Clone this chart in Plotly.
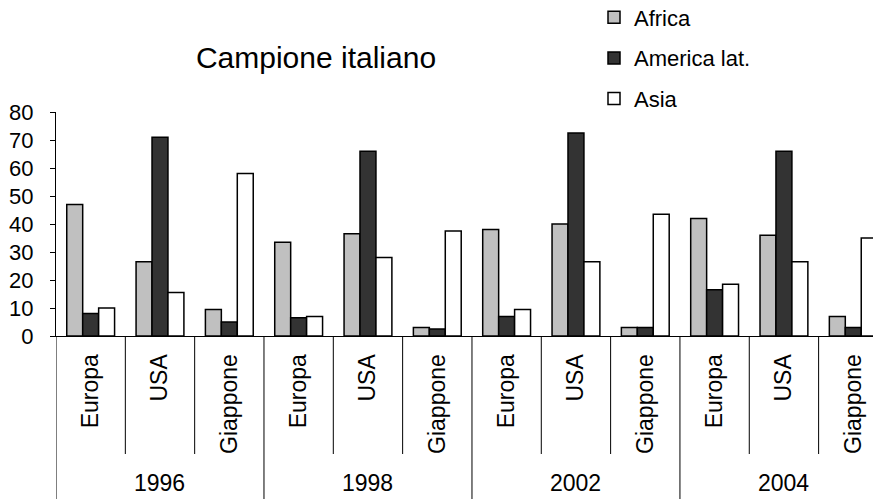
import plotly.graph_objects as go

# data
years = ['1996', '1998', '2002', '2004']
countries = ['Europa', 'USA', 'Giappone']

africa = [47, 26.5, 9.5, 33.5, 36.5, 3, 38, 40, 3, 42, 36, 7]
america_lat = [8, 71, 5, 6.5, 66, 2.5, 7, 72.5, 3, 16.5, 66, 3]
asia = [10, 15.5, 58, 7, 28, 37.5, 9.5, 26.5, 43.5, 18.5, 26.5, 35]

labels = [c for y in years for c in countries]
pos = list(range(len(labels)))
nc = len(countries)

FONT = 'Arial, Liberation Sans, sans-serif'
# page has an 8px body margin, so the figure is 873x491
W, H = 873, 491
top, bottom = 104, 328
plot_h = bottom - top

fig = go.Figure()
for name, vals, col, grp in [('Africa', africa, '#c0c0c0', 'a'),
                             ('America lat.', america_lat, '#333333', 'b'),
                             ('Asia', asia, '#ffffff', 'c')]:
    fig.add_trace(go.Bar(x=pos, y=vals, name=name, legendgroup=grp,
                         marker=dict(color=col, line=dict(color='black', width=1.5))))

# boundary lines between countries (short) and between years (to the bottom)
for i in range(len(labels) + 1):
    b = i - 0.5
    if i % nc == 0:
        y1 = -(H - bottom) / plot_h
    else:
        y1 = -118 / plot_h
    fig.add_shape(type='line', xref='x', yref='paper', x0=b, x1=b, y0=0, y1=y1,
                  line=dict(color='black', width=1))

# year labels centred under each group
for g, yr in enumerate(years):
    fig.add_annotation(x=g * nc + (nc - 1) / 2, xref='x', y=-147 / plot_h, yref='paper',
                       text=yr, showarrow=False, yanchor='middle', font=dict(size=23))

fig.update_layout(
    width=W, height=H,
    margin=dict(l=48, r=0, t=top, b=H - bottom, autoexpand=False),
    paper_bgcolor='white', plot_bgcolor='white',
    barmode='group', bargap=0.31, bargroupgap=0,
    font=dict(family=FONT, size=21, color='black'),
    title=dict(text='Campione italiano', x=308 / W, xanchor='center',
               y=1 - 49 / H, yanchor='middle', font=dict(size=30)),
    legend=dict(x=586 / W, xref='container', xanchor='left', y=1 - 50 / H, yanchor='middle',
                yref='container', tracegroupgap=9, font=dict(size=22)),
)
fig.update_xaxes(range=[-0.5, 11.4], tickvals=pos, ticktext=labels, showline=True,
                 linecolor='black', linewidth=1, ticks='', tickangle=-90, showgrid=False,
                 zeroline=False, ticklabelstandoff=8, automargin=False,
                 tickfont=dict(size=23))
fig.update_yaxes(range=[0, 80], dtick=10, showline=True, linecolor='black', linewidth=1,
                 ticks='outside', ticklen=5, tickcolor='black', showgrid=False,
                 zeroline=False, ticklabelstandoff=12, automargin=False,
                 tickfont=dict(size=22))

fig.write_html('out.html')
